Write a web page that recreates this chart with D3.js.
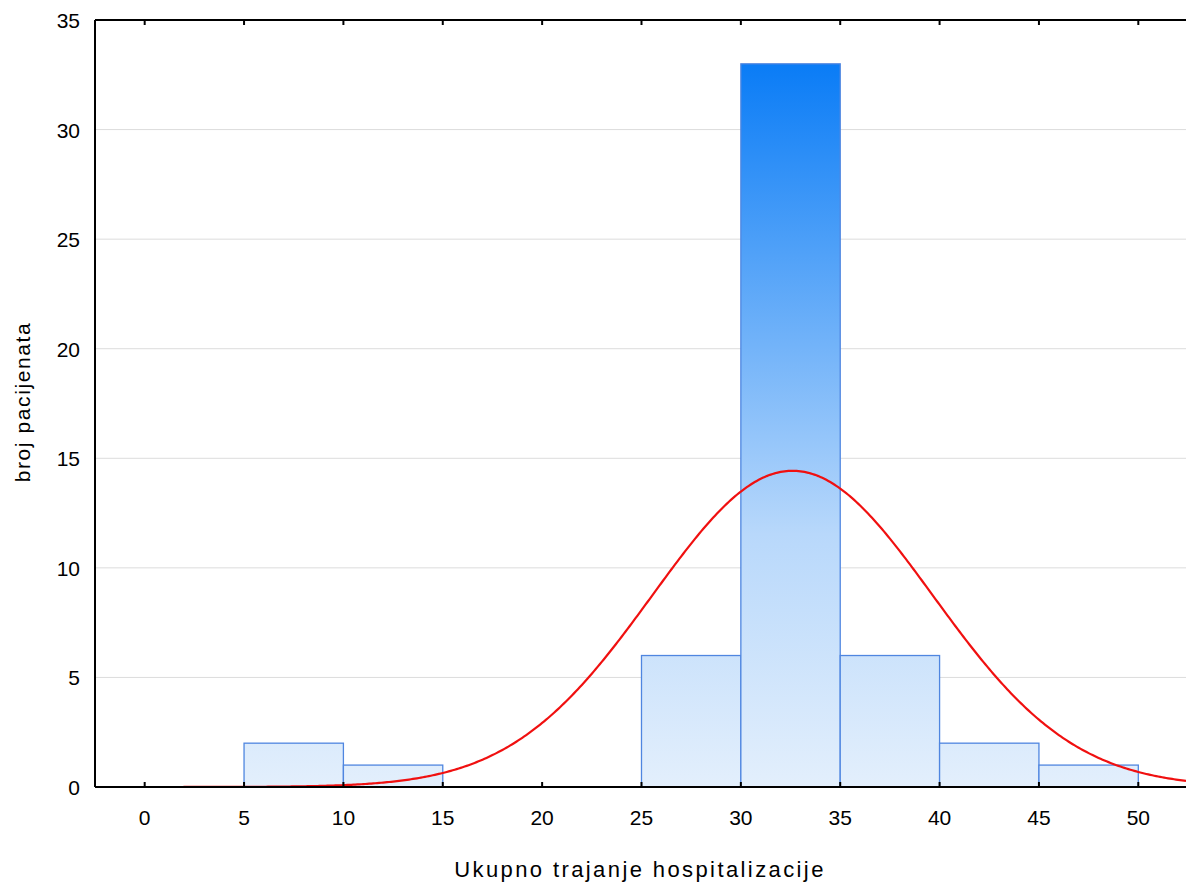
<!DOCTYPE html>
<html><head><meta charset="utf-8">
<script src="https://cdn.jsdelivr.net/npm/d3@7"></script>
<style>body{margin:0;background:#fff}text{font-family:"Liberation Sans",Arial,sans-serif}</style>
</head><body>
<svg id="chart" width="1186" height="890"></svg>
<script>
const binStarts = [5, 10, 25, 30, 35, 40, 45];
const binCounts = [2, 1, 6, 33, 6, 2, 1];
const binWidth = 5;
const xTicks = [0, 5, 10, 15, 20, 25, 30, 35, 40, 45, 50];
const yTicks = [0, 5, 10, 15, 20, 25, 30, 35];
const fitMean = 32.6, fitSd = 7.05, fitN = 51;

const svg = d3.select("#chart");
const pLeft = 95, pRight = 1186, pTop = 20, pBottom = 787;
const x = d3.scaleLinear().domain([-2.5, 52.4]).range([pLeft, pRight]);
const y = d3.scaleLinear().domain([0, 35]).range([pBottom, pTop]);

const grad = svg.append("defs").append("linearGradient")
    .attr("id", "g").attr("gradientUnits", "userSpaceOnUse")
    .attr("x1", 0).attr("x2", 0).attr("y1", y(0)).attr("y2", y(33));
grad.append("stop").attr("offset", 0).attr("stop-color", "#e3effc");
grad.append("stop").attr("offset", 0.35).attr("stop-color", "#b8d8fb");
grad.append("stop").attr("offset", 1).attr("stop-color", "#0a7cf6");

// grid
svg.selectAll(".grid").data(yTicks.slice(1, -1)).enter().append("line")
    .attr("x1", pLeft).attr("x2", pRight)
    .attr("y1", d => y(d)).attr("y2", d => y(d))
    .attr("stroke", "#dcdcdc").attr("stroke-width", 1);

// bars
svg.selectAll(".bar").data(binStarts).enter().append("rect")
    .attr("x", d => x(d)).attr("width", x(binWidth) - x(0))
    .attr("y", (d, i) => y(binCounts[i]))
    .attr("height", (d, i) => y(0) - y(binCounts[i]))
    .attr("fill", "url(#g)").attr("stroke", "#4f86e0").attr("stroke-width", 1.3);

// fitted normal curve
const xs = d3.range(-2.5, 52.45, 0.1);
const dens = v => fitN * binWidth / (fitSd * Math.sqrt(2 * Math.PI)) *
    Math.exp(-0.5 * Math.pow((v - fitMean) / fitSd, 2));
svg.append("path").datum(xs)
    .attr("d", d3.line().x(d => x(d)).y(d => y(dens(d))))
    .attr("fill", "none").attr("stroke", "#f01010").attr("stroke-width", 2.2);

// frame
svg.append("line").attr("x1", pLeft).attr("x2", pRight).attr("y1", pTop).attr("y2", pTop)
    .attr("stroke", "#000").attr("stroke-width", 2);
svg.append("line").attr("x1", pLeft).attr("x2", pRight).attr("y1", pBottom).attr("y2", pBottom)
    .attr("stroke", "#000").attr("stroke-width", 2);
svg.append("line").attr("x1", pLeft).attr("x2", pLeft).attr("y1", pTop).attr("y2", pBottom)
    .attr("stroke", "#000").attr("stroke-width", 2);

xTicks.forEach(t => {
    svg.append("line").attr("x1", x(t)).attr("x2", x(t)).attr("y1", pBottom).attr("y2", pBottom - 5)
        .attr("stroke", "#000").attr("stroke-width", 2);
    svg.append("line").attr("x1", x(t)).attr("x2", x(t)).attr("y1", pTop).attr("y2", pTop + 5)
        .attr("stroke", "#000").attr("stroke-width", 2);
    svg.append("text").attr("x", x(t)).attr("y", 825).attr("text-anchor", "middle")
        .attr("font-size", 21).text(t);
});
yTicks.forEach(t => {
    svg.append("text").attr("x", 80).attr("y", y(t) + 8).attr("text-anchor", "end")
        .attr("font-size", 21).text(t);
});

svg.append("text").attr("x", 640).attr("y", 877).attr("text-anchor", "middle")
    .attr("font-size", 22).attr("letter-spacing", 2.4).text("Ukupno trajanje hospitalizacije");
svg.append("text").attr("transform", "translate(30,402) rotate(-90)")
    .attr("text-anchor", "middle").attr("font-size", 21).attr("letter-spacing", 1.6)
    .text("broj pacijenata");
</script>
</body></html>
